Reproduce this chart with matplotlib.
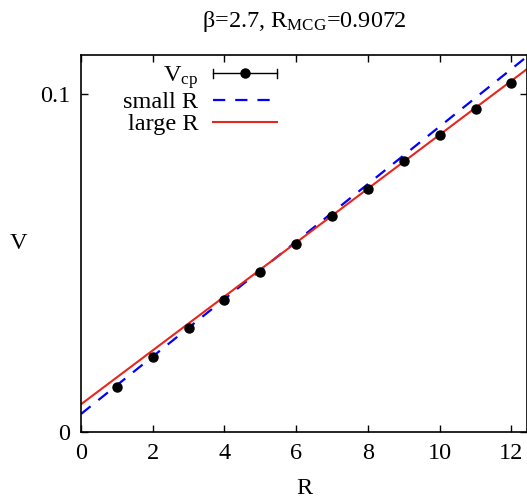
import matplotlib
matplotlib.use("Agg")
import matplotlib.pyplot as plt
import numpy as np
from matplotlib.legend_handler import HandlerBase
from matplotlib.lines import Line2D

plt.rcParams['font.family'] = ['Liberation Serif', 'DejaVu Serif']
plt.rcParams['mathtext.fontset'] = 'custom'
plt.rcParams['mathtext.rm'] = 'Liberation Serif'
plt.rcParams['mathtext.it'] = 'Liberation Serif'

# data
R = [1, 2, 3, 4, 5, 6, 7, 8, 9, 10, 11, 12]
V_cp = [0.0133, 0.0224, 0.0308, 0.0391, 0.0475, 0.0558, 0.0640, 0.0721, 0.0801, 0.0880, 0.0956, 0.1033]
V_err = [0.0002, 0.0002, 0.0002, 0.0002, 0.0002, 0.0002, 0.0002, 0.0002, 0.0003, 0.0003, 0.0003, 0.0004]

fit_labels = ['small R', 'large R']
fit_intercepts = [0.00541, 0.00828]
fit_slopes = [0.008503, 0.007974]

x_ticks = [0, 2, 4, 6, 8, 10, 12]
y_ticks = [0, 0.1]
y_ticklabels = ['0', '0.1']
title = r'β=2.7, R$_{\rm MCG}$=0.9072'

FS = 17.5

fig = plt.figure(figsize=(5.27, 5.04), dpi=100)
ax = fig.add_axes([0.1537, 0.1423, 0.846, 0.7486])

xmin, xmax = 0, 12.43
ymin, ymax = 0, 0.1116

xx = np.linspace(xmin, xmax, 200)
styles = [dict(color='#0000ff', lw=1.6, linestyle=(0, (5.5, 4.5))),
          dict(color='#e8261c', lw=1.5, linestyle='-')]
fit_handles = []
for lab, a, b, st in zip(fit_labels, fit_intercepts, fit_slopes, styles):
    h, = ax.plot(xx, a + b * xx, label=lab, **st)
    fit_handles.append(h)

ax.errorbar(R, V_cp, yerr=V_err, fmt='o', color='black', ms=6.5, elinewidth=1, capsize=2, zorder=5)


class HandlerHErr(HandlerBase):
    def create_artists(self, legend, orig_handle, xdescent, ydescent, width, height, fontsize, trans):
        y = height / 2 - ydescent
        x0, x1 = -xdescent, -xdescent + width
        ln = Line2D([x0, x1], [y, y], color='black', lw=1, transform=trans)
        c1 = Line2D([x0, x0], [y - 3, y + 3], color='black', lw=1, transform=trans)
        c2 = Line2D([x1, x1], [y - 3, y + 3], color='black', lw=1, transform=trans)
        dot = Line2D([(x0 + x1) / 2], [y], marker='o', ms=6.5, color='black', transform=trans)
        return [ln, c1, c2, dot]


err_handle = Line2D([], [], color='black')
leg = ax.legend([err_handle] + fit_handles, [r'V$_{\rm cp}$'] + fit_labels,
                handler_map={err_handle: HandlerHErr()},
                loc='upper right', bbox_to_anchor=(0.44, 0.975), frameon=False,
                markerfirst=False, handlelength=2.63, handletextpad=0.62,
                labelspacing=0.0, fontsize=FS, borderaxespad=0.0, borderpad=0.0)
for t in leg.get_texts():
    t.set_ha('right')

ax.set_xlim(xmin, xmax)
ax.set_ylim(ymin, ymax)
ax.set_xticks(x_ticks)
ax.set_yticks(y_ticks)
ax.set_yticklabels(y_ticklabels)
ax.tick_params(direction='in', length=5, width=1, top=True, right=True, labelsize=FS, pad=8)
for s in ax.spines.values():
    s.set_linewidth(1.2)

ax.set_xlabel('R', fontsize=FS, labelpad=10)
ax.set_ylabel('V', fontsize=FS, rotation=0, va='center', ha='center')
ax.yaxis.set_label_coords(-0.141, 0.5)
ax.set_title(title, fontsize=FS, pad=20)

fig.savefig('out.png', dpi=100)
